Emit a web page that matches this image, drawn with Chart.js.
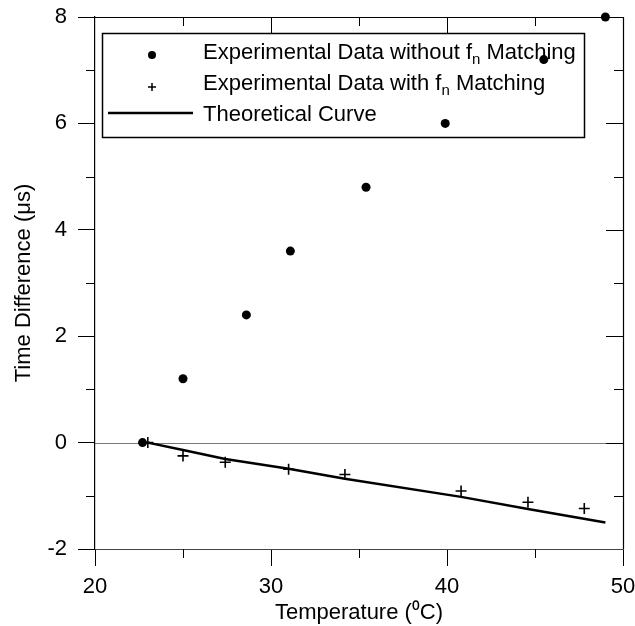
<!DOCTYPE html>
<html>
<head>
<meta charset="utf-8">
<script src="https://cdn.jsdelivr.net/npm/chart.js@4"></script>
<style>
  html, body { margin: 0; padding: 0; background: #fff; }
</style>
</head>
<body>
<canvas id="chart" width="635" height="626"></canvas>
<script>
const FONT = '"Liberation Sans", Arial, sans-serif';

// without f_n matching (dots)
const dotTemps = [22.7, 25.0, 28.6, 31.1, 35.4, 39.9, 45.5, 49.0];
const dotDiffs = [0, 1.2, 2.4, 3.6, 4.8, 6.0, 7.2, 8.0];
// with f_n matching (crosses)
const crossTemps = [23.0, 25.0, 27.4, 31.0, 34.2, 40.8, 44.6, 47.8];
const crossDiffs = [0, -0.25, -0.37, -0.5, -0.6, -0.91, -1.12, -1.24];
// theoretical curve
const curveTemps = [23, 25, 27.4, 31, 34.2, 40.8, 44.6, 49];
const curveDiffs = [0, -0.14, -0.31, -0.49, -0.68, -1.02, -1.25, -1.5];

const xTicks = [20, 30, 40, 50];
const xMinor = [25, 35, 45];
const yTicks = [-2, 0, 2, 4, 6, 8];
const yMinor = [-1, 1, 3, 5, 7];

const legendRows = [
  { pre: "Experimental Data without f", sub: "n", post: " Matching", mark: "dot" },
  { pre: "Experimental Data with f", sub: "n", post: " Matching", mark: "cross" },
  { pre: "Theoretical Curve", sub: "", post: "", mark: "line" }
];

const toPoints = (xs, ys) => xs.map((x, i) => ({ x: x, y: ys[i] }));

// frame, inner ticks, zero line and legend box
const framePlugin = {
  id: "frame",
  beforeDatasetsDraw(chart) {
    const { ctx, chartArea: a, scales: { x, y } } = chart;
    ctx.save();
    // zero line
    ctx.strokeStyle = "#777";
    ctx.lineWidth = 1;
    ctx.beginPath();
    ctx.moveTo(a.left, Math.round(y.getPixelForValue(0)) + 0.5);
    ctx.lineTo(a.right, Math.round(y.getPixelForValue(0)) + 0.5);
    ctx.stroke();

    // top and right border
    ctx.strokeStyle = "#000";
    ctx.lineWidth = 1.2;
    ctx.beginPath();
    ctx.moveTo(a.left, a.top + 0.5);
    ctx.lineTo(a.right + 0.5, a.top + 0.5);
    ctx.lineTo(a.right + 0.5, a.bottom);
    ctx.stroke();

    ctx.lineWidth = 1;
    ctx.beginPath();
    // top ticks (inward)
    xTicks.slice(1, -1).forEach(v => {
      const px = Math.round(x.getPixelForValue(v)) + 0.5;
      ctx.moveTo(px, a.top); ctx.lineTo(px, a.top + 17);
    });
    xMinor.forEach(v => {
      const px = Math.round(x.getPixelForValue(v)) + 0.5;
      ctx.moveTo(px, a.top); ctx.lineTo(px, a.top + 9);
      // bottom minor (outward)
      ctx.moveTo(px, a.bottom); ctx.lineTo(px, a.bottom + 9);
    });
    // right ticks (inward)
    yTicks.slice(1, -1).forEach(v => {
      const py = Math.round(y.getPixelForValue(v)) + 0.5;
      ctx.moveTo(a.right, py); ctx.lineTo(a.right - 17, py);
    });
    yMinor.forEach(v => {
      const py = Math.round(y.getPixelForValue(v)) + 0.5;
      ctx.moveTo(a.right, py); ctx.lineTo(a.right - 9, py);
      // left minor (outward)
      ctx.moveTo(a.left, py); ctx.lineTo(a.left - 9, py);
    });
    ctx.stroke();

    // legend
    const box = { l: 102, t: 33, r: 584, b: 137 };
    ctx.fillStyle = "#fff";
    ctx.fillRect(box.l, box.t, box.r - box.l, box.b - box.t);
    ctx.strokeStyle = "#000";
    ctx.lineWidth = 1.5;
    ctx.strokeRect(box.l + 0.5, box.t + 0.5, box.r - box.l, box.b - box.t);

    const baselines = [59, 90, 121];
    const textX = 203;
    legendRows.forEach((row, i) => {
      const by = baselines[i];
      ctx.fillStyle = "#000";
      ctx.strokeStyle = "#000";
      if (row.mark === "dot") {
        ctx.beginPath();
        ctx.arc(152, by - 4, 4, 0, Math.PI * 2);
        ctx.fill();
      } else if (row.mark === "cross") {
        ctx.lineWidth = 1.5;
        ctx.beginPath();
        ctx.moveTo(148, by - 3); ctx.lineTo(156, by - 3);
        ctx.moveTo(152, by - 7); ctx.lineTo(152, by + 1);
        ctx.stroke();
      } else {
        ctx.lineWidth = 2.5;
        ctx.beginPath();
        ctx.moveTo(108, by - 8); ctx.lineTo(193, by - 8);
        ctx.stroke();
      }
      ctx.textBaseline = "alphabetic";
      ctx.textAlign = "left";
      ctx.font = "22px " + FONT;
      let cx = textX;
      ctx.fillText(row.pre, cx, by);
      cx += ctx.measureText(row.pre).width;
      if (row.sub) {
        ctx.font = "15px " + FONT;
        ctx.fillText(row.sub, cx, by + 5);
        cx += ctx.measureText(row.sub).width;
        ctx.font = "22px " + FONT;
        ctx.fillText(row.post, cx, by);
      }
    });
    ctx.restore();
  }
};

const ctx = document.getElementById("chart").getContext("2d");
const chart = new Chart(ctx, {
  type: "scatter",
  data: {
    datasets: [{
      label: "Experimental Data without fn Matching",
      data: toPoints(dotTemps, dotDiffs),
      pointStyle: "circle",
      pointRadius: 4.5,
      backgroundColor: "#000",
      borderColor: "#000",
      borderWidth: 0,
      clip: false
    }, {
      label: "Experimental Data with fn Matching",
      data: toPoints(crossTemps, crossDiffs),
      pointStyle: "cross",
      pointRadius: 5.5,
      borderColor: "#000",
      borderWidth: 1.6
    }, {
      label: "Theoretical Curve",
      data: toPoints(curveTemps, curveDiffs),
      showLine: true,
      pointRadius: 0,
      borderColor: "#000",
      borderWidth: 2.5,
      tension: 0
    }]
  },
  options: {
    responsive: false,
    animation: false,
    devicePixelRatio: 1,
    layout: { padding: { top: 17, right: 12, left: 0, bottom: 0 } },
    plugins: {
      legend: { display: false },
      tooltip: { enabled: false }
    },
    scales: {
      x: {
        type: "linear",
        min: 20, max: 50,
        afterBuildTicks: s => { s.ticks = xTicks.map(v => ({ value: v })); },
        afterFit: s => { s.height = 77; s.paddingLeft = 0; s.paddingRight = 0; },
        grid: { drawOnChartArea: false, color: "#000", tickLength: 17 },
        border: { display: true, color: "#444", width: 1 },
        ticks: { color: "#000", padding: 8, maxRotation: 0, font: { size: 22, family: FONT } },
        title: {
          display: true,
          text: "Temperature (\u2070C)",
          color: "#000",
          font: { size: 22, family: FONT },
          padding: { top: 0, bottom: 0 }
        }
      },
      y: {
        type: "linear",
        min: -2, max: 8,
        afterBuildTicks: s => { s.ticks = yTicks.map(v => ({ value: v })); },
        afterFit: s => { s.width = 95; s.paddingTop = 0; s.paddingBottom = 0; },
        grid: { drawOnChartArea: false, color: "#000", tickLength: 17 },
        border: { display: true, color: "#000", width: 1.2 },
        ticks: { color: "#000", padding: 11, font: { size: 22, family: FONT } },
        title: {
          display: true,
          text: "Time Difference (\u03bcs)",
          color: "#000",
          font: { size: 22, family: FONT },
          padding: { top: 11, bottom: 0 }
        }
      }
    }
  },
  plugins: [framePlugin]
});
</script>
</body>
</html>
